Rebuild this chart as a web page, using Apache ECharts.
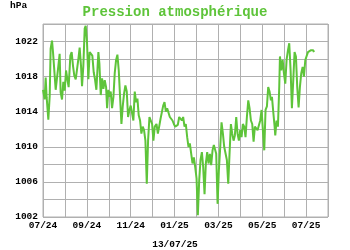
<!DOCTYPE html>
<html>
<head>
<meta charset="utf-8">
<script src="https://cdn.jsdelivr.net/npm/echarts@6/dist/echarts.min.js"></script>
<style>html,body{margin:0;padding:0;background:#fff}#c{width:350px;height:250px}</style>
</head>
<body>
<div id="c"></div>
<script>
// Days since 2024-07-01 (estimated) and pressure in hPa
const days = [0,2.3,3.7,5.1,7.4,9.3,10.6,12.5,13.9,15.7,17.6,19.4,21.3,23.1,24.5,26.4,28.2,30.1,32,33.8,35.6,38,39.8,41.7,43.5,45.4,47.2,49.1,50.9,52.8,54.2,56,57.9,59.3,61.1,63,64.8,66.7,68.5,70.4,72.2,74.1,76.9,78.3,80.2,82,83.9,85.7,87.6,89,90.8,92.2,94,95.9,97.8,99.6,101.5,103.3,105.2,107,108.9,110.7,112.6,114.4,116.3,118.1,120,121.8,123.7,125.5,127.4,129.2,131.1,132.9,134.8,136.6,138.5,140.3,142.2,144.1,145.9,147.8,149.6,151.5,153.3,155.2,157.6,159.5,161.3,163.2,165,166.9,168.7,170.6,172.4,174.3,176.1,178,179.8,181.7,183.5,185.4,187.2,189.1,190.9,192.8,194.6,196.5,198.3,200.2,202,203.9,205.8,207.6,209.5,211.3,213.2,215,216.9,218.7,220.6,222.4,224.3,226.1,228,229.8,231.7,233.5,235.4,237.2,240.5,242.4,244.2,246.1,247.9,249.8,251.6,253.5,255.3,257.2,259,260.9,262.7,264.6,266.4,268.3,270.1,272,273.8,275.7,277.5,279.4,281.2,283.1,285,286.8,288.7,290.5,292.4,294.2,296.1,297.9,299.8,301.6,303.5,305.3,307.2,309,310.9,312.7,314.6,316.4,317.9,319.7,321.6,322.5,324.3,326.2,328,329,330.8,332.7,334.5,336.4,338.2,340.1,341.9,343.8,345.6,347.5,349.3,351.2,353,354.9,356.7,358.6,360.5,362.3,364.2,366,367.9,369.7,371.6,373.4,375.3,376.2];
const pressure = [1016.5,1015.4,1017.9,1015.6,1013.1,1015.8,1021.2,1022.1,1020.8,1020.6,1016.5,1016.3,1019.2,1020.6,1016.2,1015.4,1017.4,1016.4,1018.7,1017.7,1016.8,1020.4,1020.8,1019.2,1018.1,1017.7,1018.8,1020,1021.3,1019.2,1016.9,1019.2,1023.5,1023.8,1021.9,1017.7,1020.8,1020.8,1020.4,1018.5,1017.7,1016.5,1020.8,1019.5,1015.9,1017.8,1016.6,1017.6,1016.8,1014.4,1016.5,1015.7,1016.3,1014.4,1015.7,1018.4,1019.9,1020.5,1018.7,1015.7,1012.6,1014.6,1016.1,1017,1016.3,1013.4,1014.2,1014.7,1014.6,1013,1016.3,1015.1,1015.5,1013.6,1013,1011.5,1012.3,1011.9,1010.7,1005.8,1010.7,1013.4,1013.6,1012.6,1010.7,1012.3,1012.6,1011.5,1012.3,1013.2,1013.4,1014.7,1015.1,1014,1014.4,1014.2,1013.4,1013.6,1013,1012.6,1012.3,1012.1,1012.5,1013.4,1013.2,1013,1013.4,1012.3,1012.6,1011.1,1010,1010.4,1009.2,1008.1,1008.8,1007.7,1006.4,1002.2,1006.2,1008.5,1009.4,1007.7,1004.6,1008.1,1009.4,1008.1,1009.2,1007.9,1009.6,1010.2,1009.2,1003.5,1007.3,1010,1012.8,1011.5,1010,1010.2,1008.5,1005.8,1009.2,1012.6,1011.5,1010.7,1011.3,1013.4,1011.5,1010.7,1011.9,1011.1,1012.6,1012.3,1011.1,1013.4,1015.3,1014.4,1013,1012.6,1010.6,1012.3,1012.3,1011.9,1011.7,1013,1014.2,1011.9,1009.6,1014.2,1014.6,1016.8,1016.3,1015.3,1015.7,1014,1012.3,1011.3,1013,1012.3,1016.8,1020.3,1018.7,1019.9,1018.4,1017.2,1019.9,1021,1021.8,1018.7,1014.4,1017.6,1020.8,1020.3,1016.8,1014.5,1016.8,1018.4,1019.1,1018,1019.9,1019.7,1020.8,1020.6,1021,1021.2,1021,1020.8];
const monthTickLabels = ['07/24','09/24','11/24','01/25','03/25','05/25','07/25'];
const yTickLabels = [1002,1006,1010,1014,1018,1022];
const titleText = 'Pression atmosphérique';
const unitText = 'hPa';
const dateText = '13/07/25';
const monthLen = 30.44;

const font = 'Liberation Mono';
const chart = echarts.init(document.getElementById('c'), null, {renderer: 'canvas'});
chart.setOption({
  animation: false,
  title: {
    text: titleText, left: 'center', top: 0,
    textStyle: {fontFamily: font, fontWeight: 'bold', fontSize: 14, color: '#5ec43a'}
  },
  graphic: [
    {type: 'text', left: 10, top: 1, style: {text: unitText, font: 'bold 9.5px "Liberation Mono"', fill: '#000'}},
    {type: 'text', left: 'center', top: 240, style: {text: dateText, font: 'bold 9.5px "Liberation Mono"', fill: '#000'}}
  ],
  grid: {left: 43, right: 22, top: 24, bottom: 33, show: true, borderColor: '#b0b0b0', borderWidth: 1},
  xAxis: {
    type: 'value', min: 0, max: 13, interval: 1,
    axisLine: {show: false}, axisTick: {show: false},
    splitLine: {show: true, lineStyle: {color: '#b0b0b0', width: 1}},
    axisLabel: {
      margin: 4, fontFamily: font, fontWeight: 'bold', fontSize: 9.5, color: '#000',
      showMinLabel: true, showMaxLabel: true,
      formatter: v => (v % 2 === 0 && v / 2 < monthTickLabels.length) ? monthTickLabels[v / 2] : ''
    }
  },
  yAxis: {
    type: 'value', min: 1002, max: 1024, interval: 2,
    axisLine: {show: false}, axisTick: {show: false},
    splitLine: {show: true, lineStyle: {color: '#b0b0b0', width: 1}},
    axisLabel: {
      margin: 5, fontFamily: font, fontWeight: 'bold', fontSize: 9.5, color: '#000',
      showMinLabel: true, showMaxLabel: true,
      formatter: v => yTickLabels.includes(v) ? String(v) : ''
    }
  },
  series: [{
    type: 'line', showSymbol: false, symbol: 'none',
    lineStyle: {color: '#5ec43a', width: 2},
    data: days.map((d, i) => [d / monthLen, pressure[i]])
  }]
});
</script>
</body>
</html>
